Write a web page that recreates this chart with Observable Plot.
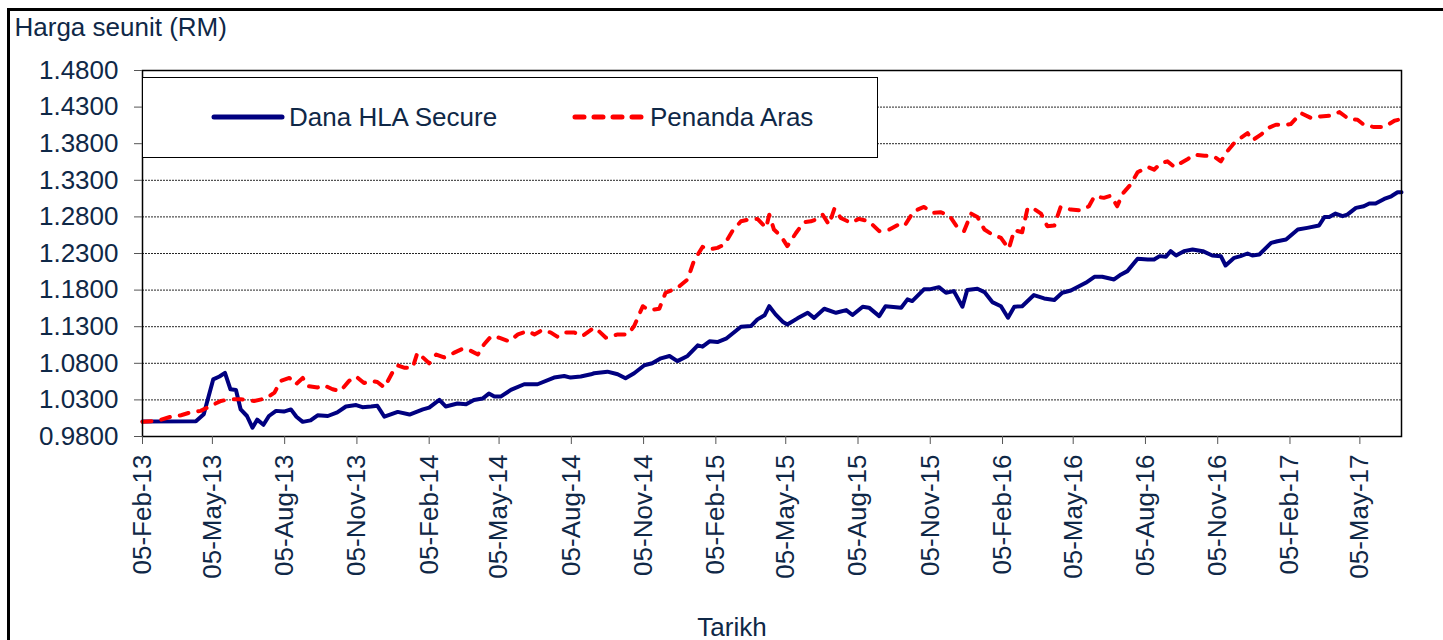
<!DOCTYPE html>
<html>
<head>
<meta charset="utf-8">
<script src="https://cdn.jsdelivr.net/npm/d3@7"></script>
<script src="https://cdn.jsdelivr.net/npm/@observablehq/plot@0.6"></script>
<style>
  html, body { margin: 0; padding: 0; background: #fff; }
  #wrap { position: relative; width: 1443px; height: 640px; overflow: hidden; font-family: "Liberation Sans", Arial, sans-serif; }
  #chart { position: absolute; left: 0; top: 0; }
  #border { position: absolute; left: 7px; top: 8px; width: 1500px; height: 700px; border-left: 3px solid #000; border-top: 3px solid #000; pointer-events: none; }
  #legend { position: absolute; left: 142px; top: 77px; width: 736px; height: 81px; box-sizing: border-box; border: 1.5px solid #000; background: #fff; }
</style>
</head>
<body>
<div id="wrap">
  <div id="chart"></div>
  <div id="legend"></div>
  <div id="border"></div>
</div>
<script>
// ---------- data ----------
const seriesNames = ["Dana HLA Secure", "Penanda Aras"];

const danaDates = [
"2013-02-05","2013-04-14","2013-04-24","2013-05-06","2013-05-14","2013-05-21","2013-05-28","2013-06-04","2013-06-10","2013-06-18",
"2013-06-25","2013-07-01","2013-07-09","2013-07-16","2013-07-25","2013-08-04","2013-08-13","2013-08-20","2013-08-28","2013-09-07",
"2013-09-16","2013-09-29","2013-10-11","2013-10-22","2013-11-04","2013-11-12","2013-11-23","2013-12-01","2013-12-10","2013-12-27",
"2014-01-11","2014-01-28","2014-02-05","2014-02-18","2014-02-26","2014-03-13","2014-03-24","2014-04-03","2014-04-14","2014-04-22",
"2014-04-29","2014-05-07","2014-05-20","2014-06-06","2014-06-23","2014-07-14","2014-07-27","2014-08-04","2014-08-17","2014-08-30",
"2014-09-03","2014-09-20","2014-10-03","2014-10-13","2014-10-24","2014-11-06","2014-11-16","2014-11-27","2014-12-08","2014-12-18",
"2014-12-31","2015-01-13","2015-01-19","2015-01-28","2015-02-07","2015-02-18","2015-03-09","2015-03-22","2015-03-30","2015-04-08",
"2015-04-14","2015-04-22","2015-05-01","2015-05-07","2015-05-20","2015-06-02","2015-06-10","2015-06-23","2015-07-08","2015-07-21",
"2015-07-29","2015-08-11","2015-08-19","2015-09-01","2015-09-09","2015-09-29","2015-10-07","2015-10-13","2015-10-28","2015-11-04",
"2015-11-16","2015-11-25","2015-12-05","2015-12-16","2015-12-22","2016-01-04","2016-01-13","2016-01-23","2016-02-03","2016-02-12",
"2016-02-20","2016-03-01","2016-03-16","2016-03-29","2016-04-11","2016-04-21","2016-05-02","2016-05-13","2016-05-21","2016-06-01",
"2016-06-11","2016-06-26","2016-07-05","2016-07-13","2016-07-26","2016-08-08","2016-08-16","2016-08-23","2016-08-31","2016-09-06",
"2016-09-13","2016-09-23","2016-10-04","2016-10-17","2016-10-29","2016-11-09","2016-11-15","2016-11-26","2016-12-04","2016-12-13",
"2016-12-19","2016-12-28","2017-01-12","2017-01-20","2017-01-31","2017-02-15","2017-02-27","2017-03-14","2017-03-21","2017-03-27",
"2017-04-04","2017-04-13","2017-04-19","2017-04-30","2017-05-10","2017-05-17","2017-05-25","2017-06-05","2017-06-14","2017-06-22",
"2017-06-27"
];
const danaValues = [
1.0005,1.001,1.0105,1.058,1.062,1.067,1.0445,1.0436,1.017,1.008,
0.992,1.003,0.996,1.008,1.015,1.014,1.017,1.007,1.000,1.002,
1.009,1.008,1.013,1.021,1.023,1.020,1.021,1.022,1.007,1.0136,
1.010,1.017,1.0195,1.030,1.021,1.025,1.024,1.030,1.0318,1.0386,
1.0345,1.0345,1.0436,1.0514,1.0514,1.0605,1.0627,1.0605,1.062,1.065,
1.0664,1.0686,1.065,1.0595,1.0664,1.0773,1.080,1.0868,1.090,1.083,
1.090,1.1045,1.1027,1.110,1.109,1.1136,1.130,1.131,1.140,1.1455,
1.158,1.1468,1.1368,1.133,1.1414,1.149,1.142,1.1545,1.149,1.1527,
1.146,1.1573,1.156,1.1445,1.158,1.156,1.1673,1.165,1.181,1.181,
1.184,1.1764,1.1786,1.1573,1.180,1.1818,1.1773,1.1636,1.158,1.1423,
1.1573,1.158,1.1732,1.1686,1.1664,1.1764,1.1795,1.1855,1.190,1.1982,
1.1982,1.1945,1.2014,1.2059,1.2227,1.2218,1.2218,1.2264,1.2255,1.2332,
1.2273,1.2332,1.2355,1.2332,1.2273,1.2264,1.2136,1.2241,1.2264,1.230,
1.2273,1.2286,1.2445,1.2468,1.2491,1.2627,1.265,1.2682,1.28,1.28,
1.2845,1.2809,1.2832,1.2923,1.2945,1.2982,1.2982,1.3045,1.3082,1.3136,
1.3136
];

const arasDates = [
"2013-02-05","2013-02-24","2013-03-13","2013-03-26","2013-04-07","2013-04-20","2013-05-03","2013-05-16","2013-05-28","2013-06-10",
"2013-06-27","2013-07-12","2013-07-23","2013-07-31","2013-08-11","2013-08-19","2013-08-28","2013-09-03","2013-09-16","2013-09-24",
"2013-10-05","2013-10-15","2013-10-26","2013-11-04","2013-11-14","2013-11-23","2013-12-01","2013-12-10","2013-12-20","2013-12-27",
"2014-01-04","2014-01-15","2014-01-21","2014-01-28","2014-02-05","2014-02-14","2014-02-24","2014-03-09","2014-03-20","2014-03-30",
"2014-04-08","2014-04-16","2014-04-25","2014-05-05","2014-05-18","2014-05-29","2014-06-10","2014-06-19","2014-06-29","2014-07-10",
"2014-07-18","2014-07-27","2014-08-09","2014-08-19","2014-08-30","2014-09-03","2014-09-09","2014-09-18","2014-10-03","2014-10-16",
"2014-10-24","2014-11-04","2014-11-12","2014-11-25","2014-12-03","2014-12-18","2014-12-31","2015-01-08","2015-01-19","2015-01-28",
"2015-02-07","2015-02-16","2015-02-26","2015-03-09","2015-03-22","2015-03-30","2015-04-10","2015-04-14","2015-04-20","2015-04-29",
"2015-05-07","2015-05-18","2015-05-28","2015-06-06","2015-06-12","2015-06-21","2015-06-29","2015-07-06","2015-07-14","2015-07-27",
"2015-08-06","2015-08-19","2015-09-01","2015-09-14","2015-09-24","2015-10-03","2015-10-15","2015-10-28","2015-11-08","2015-11-18",
"2015-11-29","2015-12-10","2015-12-18","2015-12-27","2016-01-04","2016-01-13","2016-01-23","2016-02-03","2016-02-13","2016-02-20",
"2016-03-01","2016-03-08","2016-03-16","2016-03-25","2016-04-02","2016-04-11","2016-04-19","2016-05-02","2016-05-15","2016-05-25",
"2016-06-01","2016-06-13","2016-06-22","2016-06-30","2016-07-07","2016-07-17","2016-07-26","2016-08-08","2016-08-16","2016-08-25",
"2016-09-02","2016-09-11","2016-09-19","2016-09-28","2016-10-06","2016-10-19","2016-10-31","2016-11-09","2016-11-17","2016-11-26",
"2016-12-04","2016-12-13","2016-12-19","2016-12-30","2017-01-08","2017-01-18","2017-01-31","2017-02-06","2017-02-19","2017-03-04",
"2017-03-16","2017-03-29","2017-04-09","2017-04-21","2017-05-02","2017-05-10","2017-05-23","2017-06-05","2017-06-18","2017-06-27"
];
const arasValues = [
1.000,1.0014,1.007,1.009,1.013,1.015,1.022,1.0286,1.031,1.031,
1.0286,1.032,1.040,1.056,1.060,1.051,1.060,1.049,1.047,1.050,
1.0445,1.042,1.056,1.062,1.053,1.056,1.0545,1.047,1.067,1.077,
1.074,1.074,1.0945,1.088,1.080,1.092,1.088,1.0945,1.100,1.097,
1.092,1.106,1.117,1.115,1.110,1.1195,1.124,1.1195,1.1255,1.122,
1.1164,1.122,1.122,1.117,1.1255,1.1286,1.124,1.115,1.1195,1.1195,
1.131,1.158,1.1527,1.1545,1.1764,1.183,1.1945,1.2195,1.239,1.2355,
1.2377,1.2423,1.2605,1.274,1.2773,1.2773,1.265,1.283,1.2627,1.2536,
1.24,1.258,1.2727,1.274,1.2764,1.283,1.2695,1.2914,1.2786,1.2718,
1.2773,1.274,1.2605,1.2627,1.2686,1.2673,1.2877,1.2936,1.2855,1.2864,
1.2823,1.265,1.2605,1.2845,1.280,1.2627,1.2559,1.2514,1.2364,1.2618,
1.2591,1.2923,1.2909,1.2845,1.2673,1.2682,1.2936,1.29,1.289,1.2945,
1.3082,1.306,1.3091,1.2945,1.3118,1.3241,1.3409,1.3482,1.3445,1.3536,
1.3559,1.3482,1.3536,1.3591,1.365,1.3636,1.3627,1.3559,1.3695,1.3809,
1.3877,1.3945,1.3845,1.3923,1.4014,1.4059,1.4059,1.4068,1.4218,1.415,
1.4173,1.4182,1.4232,1.4136,1.4127,1.4059,1.4027,1.4027,1.4114,1.4136
];

const xDomain = ["2013-02-05", "2017-06-27"];
const xTickDates = [
"2013-02-05","2013-05-05","2013-08-05","2013-11-05","2014-02-05","2014-05-05","2014-08-05","2014-11-05",
"2015-02-05","2015-05-05","2015-08-05","2015-11-05","2016-02-05","2016-05-05","2016-08-05","2016-11-05",
"2017-02-05","2017-05-05"
];
const yTicks = [0.98, 1.03, 1.08, 1.13, 1.18, 1.23, 1.28, 1.33, 1.38, 1.43, 1.48];
const yTitle = "Harga seunit (RM)";
const xTitle = "Tarikh";

// ---------- build ----------
const parse = d3.utcParse("%Y-%m-%d");
const dana = danaDates.map((d, i) => ({date: parse(d), value: danaValues[i]}));
const aras = arasDates.map((d, i) => ({date: parse(d), value: arasValues[i]}));
const textColor = "#0f2847";
const FONT = "'Liberation Sans', Arial, sans-serif";

const chart = Plot.plot({
  width: 1443,
  height: 640,
  marginLeft: 142,
  marginRight: 42,
  marginTop: 70,
  marginBottom: 204,
  style: {fontFamily: FONT, fontSize: "26px", color: textColor, background: "transparent"},
  x: {type: "utc", domain: xDomain.map(parse)},
  y: {domain: [yTicks[0], yTicks[yTicks.length - 1]]},
  marks: [
    Plot.gridY(yTicks.slice(1, -1), {stroke: "#000", strokeOpacity: 0.85, strokeDasharray: "2,1", strokeWidth: 1}),
    Plot.line(dana, {x: "date", y: "value", stroke: "#000080", strokeWidth: 4, strokeLinejoin: "round", strokeLinecap: "round"}),
    Plot.line(aras, {x: "date", y: "value", stroke: "#ff0000", strokeWidth: 4, strokeDasharray: "9,10", strokeLinecap: "round", strokeLinejoin: "round"}),
    Plot.frame({stroke: "#000", strokeWidth: 1.5}),
    Plot.axisY(yTicks, {tickFormat: d => d.toFixed(4), tickSize: 8, tickPadding: 16, stroke: "#555", fill: textColor, fontSize: 26, label: null}),
    Plot.axisX(xTickDates.map(parse), {tickFormat: d3.utcFormat("%d-%b-%y"), tickRotate: -90, tickSize: 8, tickPadding: 10, stroke: "#555", fill: textColor, fontSize: 26, label: null}),
    Plot.text([yTitle], {frameAnchor: "top-left", dx: -128, dy: -53, textAnchor: "start", fill: textColor, fontSize: 26}),
    Plot.text([xTitle], {frameAnchor: "bottom", dx: -40, dy: 199, fill: textColor, fontSize: 26})
  ]
});
document.getElementById("chart").appendChild(chart);

// ---------- legend ----------
const lg = d3.select("#legend").append("svg").attr("width", 733).attr("height", 78)
  .style("display", "block").style("font-family", FONT);
lg.append("line").attr("x1", 71).attr("x2", 139).attr("y1", 39).attr("y2", 39)
  .attr("stroke", "#000080").attr("stroke-width", 5).attr("stroke-linecap", "round");
lg.append("text").attr("x", 146).attr("y", 39).attr("dy", "0.35em").attr("font-size", 26)
  .attr("fill", textColor).text(seriesNames[0]);
lg.append("line").attr("x1", 432).attr("x2", 498).attr("y1", 39).attr("y2", 39)
  .attr("stroke", "#ff0000").attr("stroke-width", 5).attr("stroke-linecap", "round").attr("stroke-dasharray", "9,10");
lg.append("text").attr("x", 507).attr("y", 39).attr("dy", "0.35em").attr("font-size", 26)
  .attr("fill", textColor).text(seriesNames[1]);
</script>
</body>
</html>
